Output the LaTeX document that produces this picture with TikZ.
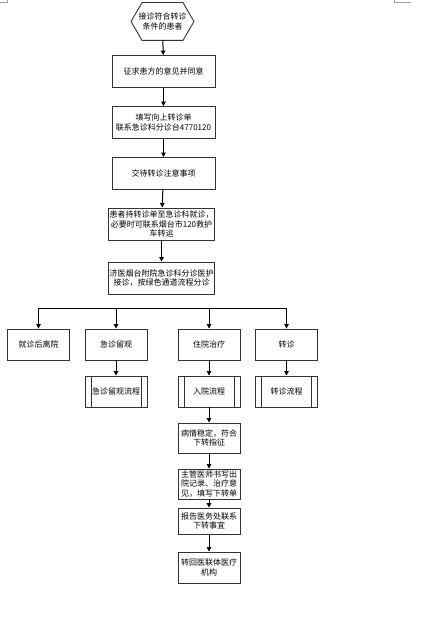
\documentclass[tikz,border=0pt]{standalone}
\usepackage{fontspec}
\setmainfont{Noto Sans CJK SC}
\usepackage{tikz}
\usetikzlibrary{arrows.meta,positioning,calc}
\definecolor{edgegray}{HTML}{333333}
\definecolor{markgray}{HTML}{A0A0A0}

\begin{document}
\begin{tikzpicture}[
  x=1pt,y=-1pt,
  box/.style={draw=edgegray,line width=0.9pt,minimum width=103pt,minimum height=32pt,
              inner sep=1pt,align=center,font=\fontsize{8}{9.6}\selectfont},
  small/.style={box,minimum width=62pt,minimum height=31pt},
  subproc/.style={small,path picture={
      \draw[edgegray,line width=0.9pt]
        ([xshift=6pt]path picture bounding box.north west) -- ([xshift=6pt]path picture bounding box.south west)
        ([xshift=-6pt]path picture bounding box.north east) -- ([xshift=-6pt]path picture bounding box.south east);}},
  hexa/.style={box,draw=none,minimum width=62pt,minimum height=37pt},
  edge/.style={draw=edgegray,line width=0.9pt},
  arr/.style={-{Triangle[length=4.5pt,width=4.5pt]},line width=1pt,color=black},
]
  \useasboundingbox (0,0) rectangle (426,620);

  % page corner marks
  \draw[markgray,line width=0.6pt] (0,2.3) -- (7,2.3) -- (7,0);
  \draw[markgray,line width=0.6pt] (394,0) -- (394,2.7) -- (411,2.7);

  % Main chain
  \node[hexa] (patient) at (162.5,21.5) {接诊符合转诊\\条件的患者};
  \draw[edge] (patient.west) -- ([xshift=11pt]patient.north west) -- ([xshift=-11pt]patient.north east)
    -- (patient.east) -- ([xshift=-11pt]patient.south east) -- ([xshift=11pt]patient.south west) -- cycle;
  \node[box] (consent) at (163.5,71.5) {征求患方的意见并同意};
  \node[box] (form) at (163.5,122.5) {填写向上转诊单\\联系急诊科分诊台4770120};
  \node[box] (notice) at (163.5,173.5) {交待转诊注意事项};
  \node[box] (transfer) at (161.5,224) {患者持转诊单至急诊科就诊，\\必要时可联系烟台市120救护\\车转运};
  \node[box] (triage) at (161.5,278) {济医烟台附院急诊科分诊医护\\接诊，按绿色通道流程分诊};

  \draw[arr] (patient) -- (consent);
  \draw[arr] (consent) -- (form);
  \draw[arr] (form) -- (notice);
  \draw[arr] (notice) -- (transfer);
  \draw[arr] (transfer) -- (triage);

  % Branches
  \node[small] (leave) at (38.5,344.5) {就诊后离院};
  \node[small] (observe) at (116,344.5) {急诊留观};
  \node[small] (inpatient) at (209,344.5) {住院治疗};
  \node[small] (referral) at (286.5,344.5) {转诊};

  \coordinate (jleave) at (38.5,308);
  \coordinate (jobserve) at (116,308);
  \coordinate (jinpatient) at (209,308);
  \coordinate (jreferral) at (286.5,308);
  \draw[line width=1pt] (jleave) -- (jreferral);
  \draw[arr] (jleave) -- (leave);
  \draw[arr] (jobserve) -- (observe);
  \draw[arr] (jinpatient) -- (inpatient);
  \draw[arr] (jreferral) -- (referral);

  % Sub-processes
  \node[subproc] (observeflow) at (116,391.5) {急诊留观流程};
  \node[subproc] (admitflow) at (209,391.5) {入院流程};
  \node[subproc] (referflow) at (286.5,391.5) {转诊流程};

  \draw[arr] (observe) -- (observeflow);
  \draw[arr] (inpatient) -- (admitflow);
  \draw[arr] (referral) -- (referflow);

  % Down-referral chain
  \node[small,minimum height=30pt] (stable) at (209,438) {病情稳定，符合\\下转指征};
  \node[small,minimum height=30pt] (discharge) at (209,484) {主管医师书写出\\院记录、治疗意\\见，填写下转单};
  \node[small,minimum height=26pt] (report) at (209,521) {报告医务处联系\\下转事宜};
  \node[small] (back) at (209,567.5) {转回医联体医疗\\机构};

  \draw[arr] (admitflow) -- (stable);
  \draw[arr] (stable) -- (discharge);
  \draw[arr] (discharge) -- (report);
  \draw[arr] (report) -- (back);
\end{tikzpicture}
\end{document}
